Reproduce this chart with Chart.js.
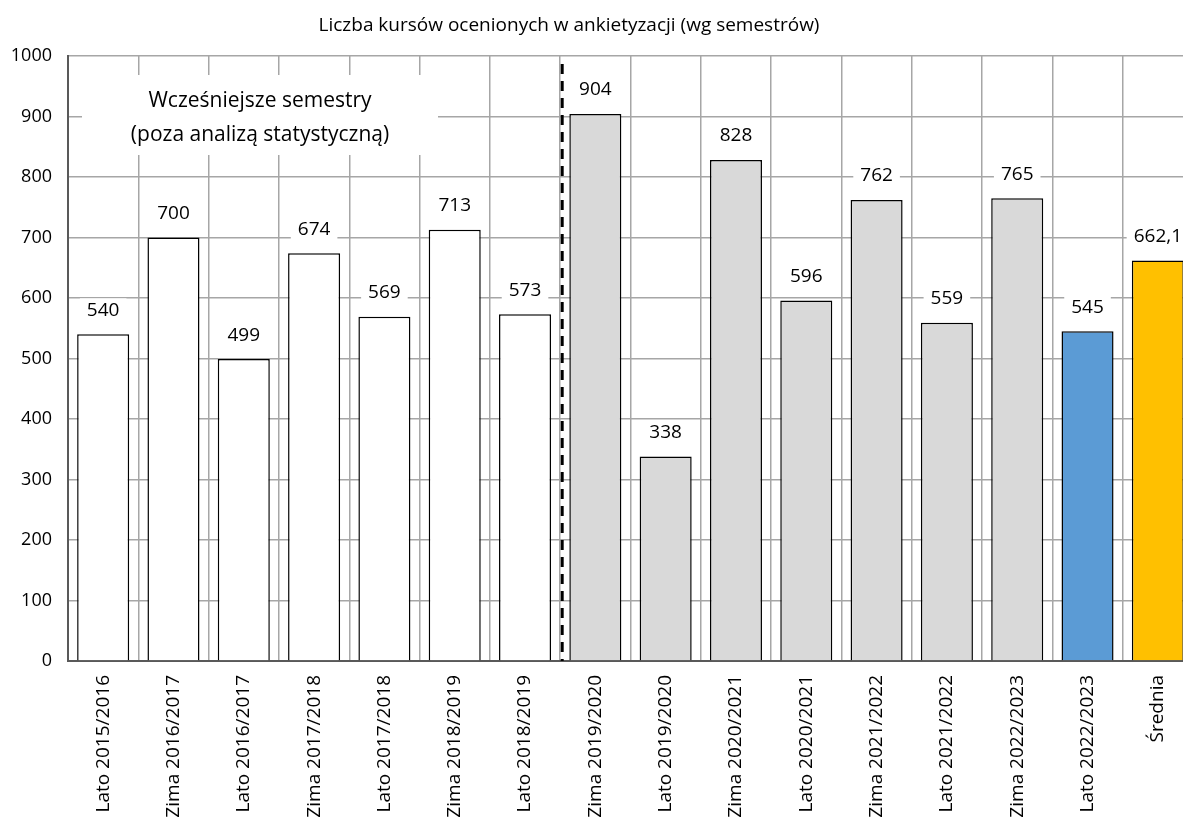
<!DOCTYPE html>
<html>
<head>
<meta charset="utf-8">
<script src="https://cdn.jsdelivr.net/npm/chart.js@4.4.0/dist/chart.umd.min.js"></script>
<style>
  html, body { margin: 0; padding: 0; overflow: hidden; background: #fff; }
  #wrap { width: 1193px; height: 821px; }
</style>
</head>
<body>
<div id="wrap"><canvas id="c" width="1193" height="821"></canvas></div>
<script>
const categories = [
  'Lato 2015/2016', 'Zima 2016/2017', 'Lato 2016/2017', 'Zima 2017/2018',
  'Lato 2017/2018', 'Zima 2018/2019', 'Lato 2018/2019', 'Zima 2019/2020',
  'Lato 2019/2020', 'Zima 2020/2021', 'Lato 2020/2021', 'Zima 2021/2022',
  'Lato 2021/2022', 'Zima 2022/2023', 'Lato 2022/2023', 'Średnia'
];
const values = [540, 700, 499, 674, 569, 713, 573, 904, 338, 828, 596, 762, 559, 765, 545, 662.1];
const groups = ['early','early','early','early','early','early','early',
                'analyzed','analyzed','analyzed','analyzed','analyzed','analyzed','analyzed',
                'current','average'];
const yTicks = [0, 100, 200, 300, 400, 500, 600, 700, 800, 900, 1000];
const titleText = 'Liczba kursów ocenionych w ankietyzacji (wg semestrów)';
const noteLines = ['Wcześniejsze semestry', '(poza analizą statystyczną)'];
const dividerAfterIndex = 6;

const groupColors = { early: '#ffffff', analyzed: '#d9d9d9', current: '#5b9bd5', average: '#ffc000' };
const FONT = '"Open Sans", "DejaVu Sans", sans-serif';

const fmt = v => (Number.isInteger(v) ? String(v) : v.toFixed(1).replace('.', ','));

const overlay = {
  id: 'overlay',
  beforeDatasetsDraw(chart) {
    const ctx = chart.ctx, a = chart.chartArea;
    ctx.save();
    ctx.fillStyle = '#fff';
    ctx.fillRect(a.left + 14, a.top + 19, 356, 80);
    ctx.fillStyle = '#000';
    ctx.font = '21px ' + FONT;
    ctx.textAlign = 'center';
    ctx.textBaseline = 'middle';
    ctx.fillText(noteLines[0], a.left + 192, a.top + 45);
    ctx.fillText(noteLines[1], a.left + 192, a.top + 79);
    ctx.restore();
  },
  afterDatasetsDraw(chart) {
    const ctx = chart.ctx, a = chart.chartArea;
    const meta = chart.getDatasetMeta(0);
    ctx.save();
    ctx.font = '19px ' + FONT;
    ctx.textAlign = 'center';
    ctx.textBaseline = 'middle';
    meta.data.forEach((bar, i) => {
      const t = fmt(values[i]);
      const w = ctx.measureText(t).width + 14;
      const cy = bar.y - 24;
      ctx.fillStyle = '#fff';
      ctx.fillRect(bar.x - w / 2, cy - 12, w, 24);
      ctx.fillStyle = '#000';
      ctx.fillText(t, bar.x, cy);
    });
    const x = (meta.data[dividerAfterIndex].x + meta.data[dividerAfterIndex + 1].x) / 2 + 2;
    ctx.strokeStyle = '#000';
    ctx.lineWidth = 3;
    ctx.setLineDash([10, 7]);
    ctx.beginPath();
    ctx.moveTo(x, a.top + 8);
    ctx.lineTo(x, a.bottom);
    ctx.stroke();
    ctx.setLineDash([]);
    ctx.font = '19px ' + FONT;
    ctx.fillText(titleText, 569, 26);
    ctx.restore();
  }
};

new Chart(document.getElementById('c'), {
  type: 'bar',
  data: {
    labels: categories,
    datasets: [{
      data: values,
      backgroundColor: groups.map(g => groupColors[g]),
      borderColor: '#000',
      borderWidth: 1.5,
      barPercentage: 0.74,
      categoryPercentage: 1.0
    }]
  },
  options: {
    responsive: false,
    animation: false,
    devicePixelRatio: 1,
    layout: { padding: { top: 56, left: 0, right: 0, bottom: 0 } },
    plugins: { legend: { display: false }, title: { display: false }, tooltip: { enabled: false } },
    scales: {
      x: {
        grid: { offset: true, color: '#a6a6a6', lineWidth: 1.5, drawTicks: false },
        border: { color: '#595959', width: 2 },
        ticks: {
          color: '#000', font: { family: FONT, size: 19 },
          minRotation: 90, maxRotation: 90, padding: 14, autoSkip: false
        },
        afterFit(scale) { scale.height = 160; scale.paddingLeft = 0; scale.paddingRight = 0; }
      },
      y: {
        min: 0, max: 1000,
        afterBuildTicks(scale) { scale.ticks = yTicks.map(v => ({ value: v })); },
        grid: { color: '#a6a6a6', lineWidth: 1.5, drawTicks: false },
        border: { color: '#595959', width: 2 },
        ticks: { color: '#000', font: { family: FONT, size: 18 }, padding: 16, callback: v => String(v) },
        afterFit(scale) { scale.width = 68; scale.paddingTop = 0; scale.paddingBottom = 0; }
      }
    }
  },
  plugins: [overlay]
});
</script>
</body>
</html>
